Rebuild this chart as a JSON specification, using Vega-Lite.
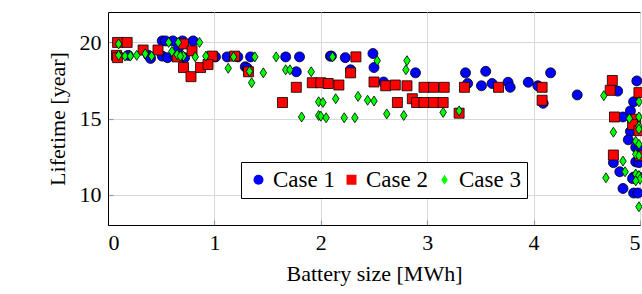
{
  "$schema": "https://vega.github.io/schema/vega-lite/v6.json",
  "width": 532,
  "height": 213,
  "autosize": {"type": "none"},
  "padding": {"left": 108, "top": 12, "right": 2, "bottom": 69},
  "data": {"values": [
    {"case":"Case 1","size":0.19,"life":19.15},{"case":"Case 1","size":0.38,"life":19.15},{"case":"Case 1","size":0.40,"life":18.95},
    {"case":"Case 1","size":0.51,"life":20.1},{"case":"Case 1","size":0.54,"life":20.1},{"case":"Case 1","size":0.61,"life":20.1},
    {"case":"Case 1","size":0.70,"life":20.1},{"case":"Case 1","size":0.80,"life":20.1},{"case":"Case 1","size":0.51,"life":19.1},
    {"case":"Case 1","size":0.56,"life":19.0},{"case":"Case 1","size":0.63,"life":19.1},{"case":"Case 1","size":0.72,"life":19.0},
    {"case":"Case 1","size":0.66,"life":19.6},{"case":"Case 1","size":0.96,"life":19.05},{"case":"Case 1","size":1.01,"life":19.05},
    {"case":"Case 1","size":1.12,"life":19.05},{"case":"Case 1","size":1.22,"life":19.05},{"case":"Case 1","size":1.34,"life":19.05},
    {"case":"Case 1","size":1.67,"life":19.05},{"case":"Case 1","size":1.80,"life":19.05},{"case":"Case 1","size":1.29,"life":18.4},
    {"case":"Case 1","size":1.31,"life":18.3},{"case":"Case 1","size":1.77,"life":18.07},{"case":"Case 1","size":2.09,"life":19.1},
    {"case":"Case 1","size":2.10,"life":19.1},{"case":"Case 1","size":2.23,"life":19.0},{"case":"Case 1","size":2.49,"life":19.27},
    {"case":"Case 1","size":2.50,"life":18.35},{"case":"Case 1","size":2.28,"life":18.2},{"case":"Case 1","size":2.89,"life":18.0},
    {"case":"Case 1","size":2.59,"life":17.4},{"case":"Case 1","size":3.36,"life":18.0},{"case":"Case 1","size":3.55,"life":18.1},
    {"case":"Case 1","size":3.38,"life":17.3},{"case":"Case 1","size":3.51,"life":17.15},{"case":"Case 1","size":3.61,"life":17.3},
    {"case":"Case 1","size":3.76,"life":17.38},{"case":"Case 1","size":3.78,"life":17.05},{"case":"Case 1","size":3.95,"life":17.38},
    {"case":"Case 1","size":4.04,"life":17.15},{"case":"Case 1","size":4.16,"life":18.0},{"case":"Case 1","size":4.41,"life":16.55},
    {"case":"Case 1","size":4.09,"life":16.0},{"case":"Case 1","size":4.97,"life":17.47},{"case":"Case 1","size":4.79,"life":16.8},
    {"case":"Case 1","size":4.94,"life":16.1},{"case":"Case 1","size":4.84,"life":15.1},{"case":"Case 1","size":4.91,"life":15.5},
    {"case":"Case 1","size":4.91,"life":14.15},{"case":"Case 1","size":4.89,"life":13.6},{"case":"Case 1","size":4.75,"life":12.1},
    {"case":"Case 1","size":4.81,"life":11.5},{"case":"Case 1","size":4.94,"life":11.15},{"case":"Case 1","size":4.84,"life":10.4},
    {"case":"Case 1","size":4.94,"life":10.1},{"case":"Case 1","size":4.98,"life":10.1},{"case":"Case 1","size":4.96,"life":12.15},
    {"case":"Case 1","size":4.99,"life":12.1},{"case":"Case 1","size":4.96,"life":13.1},{"case":"Case 1","size":4.99,"life":13.0},
    {"case":"Case 1","size":4.93,"life":11.05},{"case":"Case 1","size":4.99,"life":11.15},
    {"case":"Case 2","size":0.09,"life":20.0},{"case":"Case 2","size":0.18,"life":20.0},{"case":"Case 2","size":0.08,"life":19.15},
    {"case":"Case 2","size":0.09,"life":19.0},{"case":"Case 2","size":0.33,"life":19.5},{"case":"Case 2","size":0.47,"life":19.5},
    {"case":"Case 2","size":0.71,"life":19.9},{"case":"Case 2","size":0.79,"life":19.45},{"case":"Case 2","size":0.65,"life":19.05},
    {"case":"Case 2","size":0.98,"life":19.1},{"case":"Case 2","size":0.71,"life":18.35},{"case":"Case 2","size":0.78,"life":17.75},
    {"case":"Case 2","size":0.87,"life":18.35},{"case":"Case 2","size":0.94,"life":18.55},{"case":"Case 2","size":1.19,"life":19.1},
    {"case":"Case 2","size":1.32,"life":18.07},{"case":"Case 2","size":1.77,"life":17.05},{"case":"Case 2","size":1.64,"life":16.05},
    {"case":"Case 2","size":1.92,"life":17.35},{"case":"Case 2","size":2.00,"life":17.35},{"case":"Case 2","size":2.07,"life":17.3},
    {"case":"Case 2","size":2.17,"life":17.2},{"case":"Case 2","size":2.33,"life":19.05},{"case":"Case 2","size":2.28,"life":18.0},
    {"case":"Case 2","size":2.50,"life":17.4},{"case":"Case 2","size":2.61,"life":17.15},{"case":"Case 2","size":2.70,"life":17.2},
    {"case":"Case 2","size":2.81,"life":17.15},{"case":"Case 2","size":2.97,"life":17.05},{"case":"Case 2","size":3.06,"life":17.05},
    {"case":"Case 2","size":3.16,"life":17.05},{"case":"Case 2","size":2.72,"life":16.05},{"case":"Case 2","size":2.86,"life":16.3},
    {"case":"Case 2","size":2.90,"life":16.05},{"case":"Case 2","size":2.97,"life":16.05},{"case":"Case 2","size":3.06,"life":16.05},
    {"case":"Case 2","size":3.15,"life":16.05},{"case":"Case 2","size":3.30,"life":15.35},{"case":"Case 2","size":3.35,"life":17.05},
    {"case":"Case 2","size":3.67,"life":17.05},{"case":"Case 2","size":4.08,"life":17.05},{"case":"Case 2","size":4.08,"life":16.2},
    {"case":"Case 2","size":4.74,"life":17.5},{"case":"Case 2","size":4.72,"life":16.85},{"case":"Case 2","size":4.99,"life":16.7},
    {"case":"Case 2","size":4.76,"life":15.1},{"case":"Case 2","size":4.96,"life":14.95},{"case":"Case 2","size":4.93,"life":14.6},
    {"case":"Case 2","size":4.99,"life":14.2},{"case":"Case 2","size":4.75,"life":12.6},{"case":"Case 2","size":5.0,"life":12.55},
    {"case":"Case 3","size":0.10,"life":19.9},{"case":"Case 3","size":0.10,"life":19.15},{"case":"Case 3","size":0.16,"life":19.1},
    {"case":"Case 3","size":0.21,"life":19.1},{"case":"Case 3","size":0.27,"life":19.15},{"case":"Case 3","size":0.35,"life":19.25},
    {"case":"Case 3","size":0.41,"life":19.1},{"case":"Case 3","size":0.57,"life":20.0},{"case":"Case 3","size":0.66,"life":20.0},
    {"case":"Case 3","size":0.86,"life":20.0},{"case":"Case 3","size":0.60,"life":19.4},{"case":"Case 3","size":0.65,"life":19.2},
    {"case":"Case 3","size":0.71,"life":19.1},{"case":"Case 3","size":0.82,"life":19.05},{"case":"Case 3","size":0.92,"life":19.1},
    {"case":"Case 3","size":0.68,"life":19.1},{"case":"Case 3","size":1.18,"life":19.05},{"case":"Case 3","size":1.38,"life":19.05},
    {"case":"Case 3","size":1.58,"life":19.05},{"case":"Case 3","size":2.11,"life":19.05},{"case":"Case 3","size":1.13,"life":18.3},
    {"case":"Case 3","size":1.33,"life":18.1},{"case":"Case 3","size":1.46,"life":18.0},{"case":"Case 3","size":1.35,"life":17.35},
    {"case":"Case 3","size":1.67,"life":18.2},{"case":"Case 3","size":1.71,"life":18.2},{"case":"Case 3","size":1.91,"life":18.07},
    {"case":"Case 3","size":1.98,"life":16.1},{"case":"Case 3","size":2.02,"life":16.05},{"case":"Case 3","size":2.14,"life":16.3},
    {"case":"Case 3","size":1.82,"life":15.1},{"case":"Case 3","size":1.98,"life":15.2},{"case":"Case 3","size":2.00,"life":15.15},
    {"case":"Case 3","size":2.05,"life":15.05},{"case":"Case 3","size":2.53,"life":18.8},{"case":"Case 3","size":2.81,"life":18.8},
    {"case":"Case 3","size":2.80,"life":18.2},{"case":"Case 3","size":2.35,"life":16.45},{"case":"Case 3","size":2.44,"life":16.2},
    {"case":"Case 3","size":2.50,"life":16.15},{"case":"Case 3","size":2.22,"life":15.05},{"case":"Case 3","size":2.32,"life":15.05},
    {"case":"Case 3","size":2.62,"life":15.3},{"case":"Case 3","size":2.78,"life":15.2},{"case":"Case 3","size":3.15,"life":15.4},
    {"case":"Case 3","size":3.30,"life":15.5},{"case":"Case 3","size":4.66,"life":16.5},{"case":"Case 3","size":4.99,"life":16.1},
    {"case":"Case 3","size":4.90,"life":15.0},{"case":"Case 3","size":4.99,"life":15.1},{"case":"Case 3","size":4.75,"life":14.1},
    {"case":"Case 3","size":4.99,"life":14.5},{"case":"Case 3","size":4.96,"life":13.5},{"case":"Case 3","size":4.99,"life":13.3},
    {"case":"Case 3","size":4.84,"life":12.2},{"case":"Case 3","size":4.86,"life":11.5},{"case":"Case 3","size":4.68,"life":11.1},
    {"case":"Case 3","size":4.99,"life":9.2},{"case":"Case 3","size":4.96,"life":12.65},{"case":"Case 3","size":4.99,"life":12.55},
    {"case":"Case 3","size":4.96,"life":11.35},{"case":"Case 3","size":4.99,"life":11.25},{"case":"Case 3","size":5.0,"life":11.0},
    {"case":"Case 3","size":4.96,"life":10.9},{"case":"Case 3","size":4.99,"life":14.3}
  ]},
  "mark": {"type": "point", "filled": true, "size": 100, "stroke": "black", "strokeWidth": 0.8, "opacity": 1, "fillOpacity": 1},
  "encoding": {
    "x": {"field": "size", "type": "quantitative", "scale": {"domain": [0, 5], "nice": false, "zero": false},
      "axis": {"title": "Battery size [MWh]", "values": [0,1,2,3,4,5], "format": "d"}},
    "y": {"field": "life", "type": "quantitative", "scale": {"domain": [8, 22], "nice": false, "zero": false},
      "axis": {"title": "Lifetime [year]", "values": [10,15,20], "format": "d"}},
    "color": {"field": "case", "type": "nominal", "scale": {"domain": ["Case 1","Case 2","Case 3"], "range": ["#0000ff","#ff0000","#00ff00"]}, "legend": {"title": null}},
    "shape": {"field": "case", "type": "nominal", "scale": {"domain": ["Case 1","Case 2","Case 3"], "range": ["circle","square","M0,-1L0.65,0L0,1L-0.65,0Z"]}, "legend": {"title": null}}
  },
  "config": {
    "font": "Liberation Serif",
    "view": {"stroke": "black", "strokeWidth": 1},
    "axis": {
      "labelFont": "Liberation Serif", "labelFontSize": 22, "labelColor": "black",
      "titleFont": "Liberation Serif", "titleFontSize": 22, "titleFontWeight": "normal", "titleColor": "black",
      "grid": true, "gridColor": "#d8d8d8", "gridWidth": 1,
      "domainColor": "black", "domainWidth": 1,
      "ticks": true, "tickSize": -5, "tickColor": "#999999", "tickWidth": 1.2,
      "labelPadding": 12, "titlePadding": 10
    },
    "legend": {
      "orient": "none", "legendX": 133, "legendY": 150, "direction": "horizontal",
      "strokeColor": "black", "fillColor": "white", "padding": 6, "cornerRadius": 0,
      "labelFont": "Liberation Serif", "labelFontSize": 23, "labelColor": "black",
      "symbolSize": 100, "symbolStrokeColor": "black", "symbolStrokeWidth": 0.8, "symbolOpacity": 1,
      "columnPadding": 5, "labelOffset": 3
    }
  }
}
